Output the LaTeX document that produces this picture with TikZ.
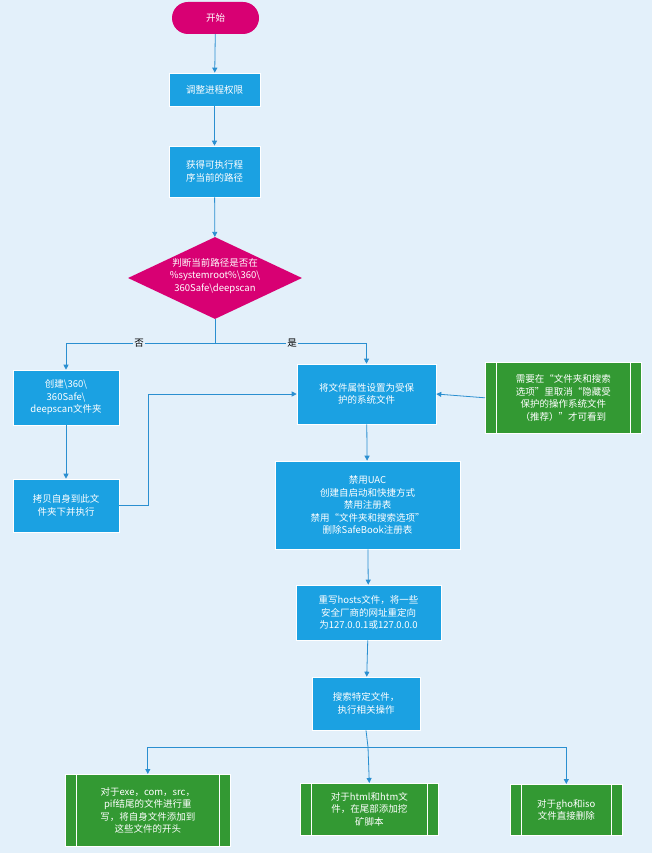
\documentclass[tikz,border=0pt]{standalone}
\usepackage{fontspec}
\setmainfont{Liberation Sans}
\newfontfamily\cjk{Noto Sans CJK SC}
\usetikzlibrary{shapes.geometric,arrows.meta}
\definecolor{bg}{HTML}{E3F0FA}
\definecolor{bl}{HTML}{1BA1E2}
\definecolor{mg}{HTML}{D80073}
\definecolor{gr}{HTML}{339933}
\definecolor{ln}{HTML}{2A8FD0}
\tikzset{
 every node/.style={font=\cjk\fontsize{9.5}{12.5}\selectfont,text=white,align=center,inner sep=0pt},
 blk/.style={draw=white,line width=0.6pt,fill=bl},
 grn/.style={draw=white,line width=0.6pt,fill=gr},
 ar/.style={draw=ln,line width=0.8pt,-{Triangle[length=5pt,width=5pt]}},
 ln/.style={draw=ln,line width=0.8pt},
}
\newcommand{\gbox}[5]{% name, x1,y1,x2,y2
 \node[grn,minimum width={#4-#2},minimum height={#5-#3},anchor=north west] (#1) at (#2,-#3) {};
 \draw[white,line width=0.6pt] ($(#1.north west)+(11,0)$) -- ($(#1.south west)+(11,0)$);
 \draw[white,line width=0.6pt] ($(#1.north east)+(-11,0)$) -- ($(#1.south east)+(-11,0)$);
}
\usetikzlibrary{calc}
\begin{document}
\begin{tikzpicture}[x=1pt,y=1pt]
\fill[bg] (0,0) rectangle (652,-853);
\useasboundingbox (0,0) rectangle (652,-853);
\node[fill=mg,rounded corners=16pt,minimum width=87,minimum height=32] (s) at (215.5,-18) {开始};
\node[blk,minimum width=91,minimum height=33] (b1) at (214.5,-89.5) {调整进程权限};
\node[blk,minimum width=91,minimum height=51] (b2) at (214.5,-171.5) {获得可执行程\\序当前的路径};
\node[diamond,fill=mg,minimum width=174,minimum height=82,aspect=2.12] (d) at (215,-278) {};
\node at (215,-276) {判断当前路径是否在\\\%systemroot\%\textbackslash360\textbackslash\\360Safe\textbackslash deepscan};
\node[blk,minimum width=106,minimum height=55] (l1) at (66,-397.5) {创建\textbackslash360\textbackslash\\360Safe\textbackslash\\deepscan文件夹};
\node[blk,minimum width=106,minimum height=53] (l2) at (66,-505.5) {拷贝自身到此文\\件夹下并执行};
\node[blk,minimum width=139,minimum height=60] (m) at (366.5,-394) {将文件属性设置为受保\\护的系统文件};
\gbox{g}{485}{362}{641}{433}
\node at (g) {需要在“文件夹和搜索\\选项”里取消“隐藏受\\保护的操作系统文件\\（推荐）”才可看到};
\node[blk,minimum width=185,minimum height=88] (b5) at (367.5,-505) {禁用UAC\\创建自启动和快捷方式\\禁用注册表\\禁用“文件夹和搜索选项”\\删除SafeBook注册表};
\node[blk,minimum width=145,minimum height=55] (b6) at (368.5,-612.5) {重写hosts文件，将一些\\安全厂商的网址重定向\\为127.0.0.1或127.0.0.0};
\node[blk,minimum width=108,minimum height=53] (b7) at (366,-703.5) {搜索特定文件，\\执行相关操作};
\gbox{f1}{65}{774}{230}{846}
\node at (f1) {对于exe，com，src，\\pif结尾的文件进行重\\写，将自身文件添加到\\这些文件的开头};
\gbox{f2}{300}{783}{438}{835}
\node at (f2) {对于html和htm文\\件，在尾部添加挖\\矿脚本};
\gbox{f3}{510}{784}{622}{835}
\node at (f3) {对于gho和iso\\文件直接删除};
\coordinate (j1) at (215,-343);
\coordinate (j2) at (368,-747);
\draw[ar] (s) -- (b1);
\draw[ar] (b1) -- (b2);
\draw[ar] (b2) -- (d);
\draw[ln] (d.south) -- (j1);
\draw[ar] (j1) -| (l1.north);
\draw[ar] (j1) -| (m.north);
\node[fill=bg,text=black,inner sep=1pt] at (139,-343) {否};
\node[fill=bg,text=black,inner sep=1pt] at (292,-343) {是};
\draw[ar] (l1) -- (l2);
\draw[ar] (l2.east) -- (148,-505.5) |- (m.west);
\draw[ar] (g.west) -- (m.east);
\draw[ar] (m) -- (b5);
\draw[ar] (b5) -- (b6);
\draw[ar] (b6) -- (b7);
\draw[ln] (b7.south) -- (j2);
\draw[ar] (j2) -| (f1.north);
\draw[ar] (j2) -- (f2.north);
\draw[ar] (j2) -| (f3.north);
\end{tikzpicture}
\end{document}
